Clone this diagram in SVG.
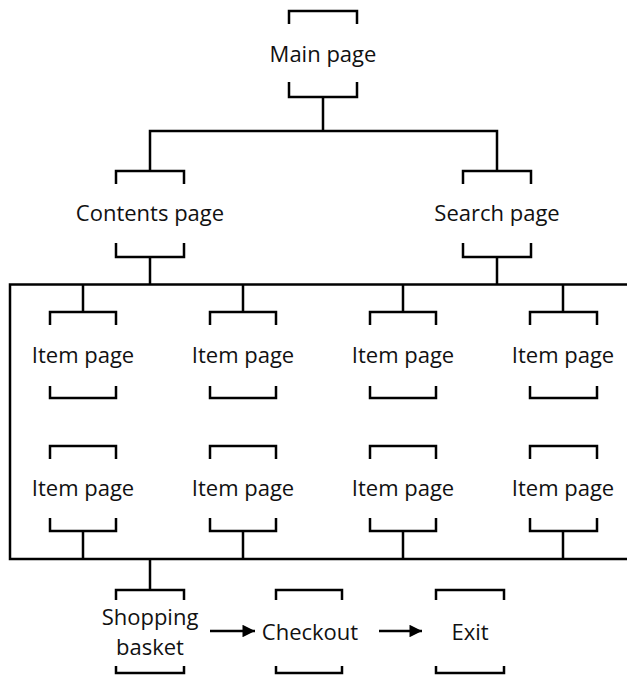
<svg xmlns="http://www.w3.org/2000/svg" width="627" height="675" viewBox="0 0 627 675">
<defs>
<style>
.ln{fill:none;stroke:#000;stroke-width:2.5;stroke-linecap:butt;stroke-linejoin:miter}
.t{font-family:"Open Sans","Noto Sans","Liberation Sans",sans-serif;font-size:22px;fill:#111;text-anchor:middle}
</style>
<marker id="ah" viewBox="0 0 10 10" refX="10" refY="5" markerWidth="6.4" markerHeight="5" markerUnits="strokeWidth" orient="auto">
<path d="M0,0 L10,5 L0,10 z" fill="#000"/>
</marker>
</defs>
<rect width="627" height="675" fill="#fff"/>
<g id="connectors" class="ln">
<path d="M323,97 V131 M150,171 V131 H497 V171"/>
<path d="M150,257 V284.5 M497,257 V284.5 M640,284.5 H10 V559 H640"/>
<path d="M83,284.5 V312 M243,284.5 V312 M403,284.5 V312 M563,284.5 V312"/>
<path d="M83,531 V559 M243,531 V559 M403,531 V559 M563,531 V559"/>
<path d="M150,559 V590"/>
<path d="M210,631 H255" marker-end="url(#ah)"/>
<path d="M379,631 H422" marker-end="url(#ah)"/>
</g>
<g id="main" class="ln"><path d="M289,24 V11 H357 V24 M289,82 V97 H357 V82"/><text class="t" x="323" y="62" stroke="none">Main page</text></g>
<g id="contents" class="ln"><path d="M116,184 V171 H184 V184 M116,243 V257 H184 V243"/><text class="t" x="150" y="221" stroke="none">Contents page</text></g>
<g id="search" class="ln"><path d="M463,184 V171 H531 V184 M463,243 V257 H531 V243"/><text class="t" x="497" y="221" stroke="none">Search page</text></g>
<g id="item1" class="ln"><path d="M50,325 V312 H116 V325 M50,386 V398 H116 V386"/><text class="t" x="83" y="363" stroke="none">Item page</text></g>
<g id="item2" class="ln"><path d="M210,325 V312 H276 V325 M210,386 V398 H276 V386"/><text class="t" x="243" y="363" stroke="none">Item page</text></g>
<g id="item3" class="ln"><path d="M370,325 V312 H436 V325 M370,386 V398 H436 V386"/><text class="t" x="403" y="363" stroke="none">Item page</text></g>
<g id="item4" class="ln"><path d="M530,325 V312 H597 V325 M530,386 V398 H597 V386"/><text class="t" x="563" y="363" stroke="none">Item page</text></g>
<g id="item5" class="ln"><path d="M50,459 V446 H116 V459 M50,518 V531 H116 V518"/><text class="t" x="83" y="496" stroke="none">Item page</text></g>
<g id="item6" class="ln"><path d="M210,459 V446 H276 V459 M210,518 V531 H276 V518"/><text class="t" x="243" y="496" stroke="none">Item page</text></g>
<g id="item7" class="ln"><path d="M370,459 V446 H436 V459 M370,518 V531 H436 V518"/><text class="t" x="403" y="496" stroke="none">Item page</text></g>
<g id="item8" class="ln"><path d="M530,459 V446 H597 V459 M530,518 V531 H597 V518"/><text class="t" x="563" y="496" stroke="none">Item page</text></g>
<g id="basket" class="ln"><path d="M116,600 V590 H184 V600 M116,666 V673 H184 V666"/><text class="t" x="150" y="625" stroke="none">Shopping</text><text class="t" x="150" y="655" stroke="none">basket</text></g>
<g id="checkout" class="ln"><path d="M276,600 V590 H342 V600 M276,666 V673 H342 V666"/><text class="t" x="310" y="640" stroke="none">Checkout</text></g>
<g id="exit" class="ln"><path d="M436,600 V590 H504 V600 M436,666 V673 H504 V666"/><text class="t" x="470" y="640" stroke="none">Exit</text></g>
</svg>
